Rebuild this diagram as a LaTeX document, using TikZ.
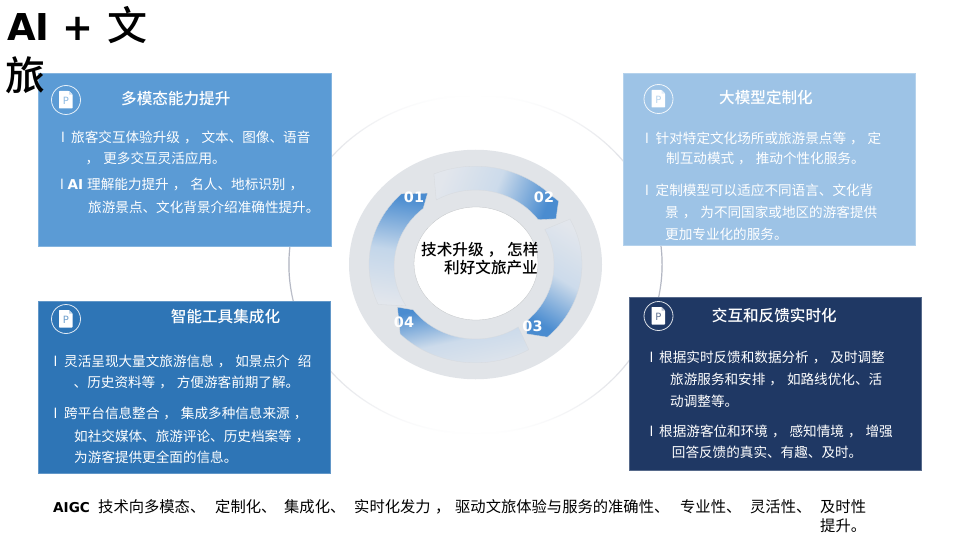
\documentclass[tikz,border=0pt]{standalone}
\usepackage{fontspec}
\usetikzlibrary{shapes.geometric}
\setmainfont{Noto Sans CJK SC}
\newfontfamily\mediumcjk{Noto Sans CJK SC Medium}
\newfontfamily\latinb{DejaVu Sans}[BoldFont={DejaVu Sans Bold}]
\definecolor{boxa}{HTML}{5B9BD5}
\definecolor{boxb}{HTML}{9DC3E6}
\definecolor{boxc}{HTML}{2E75B6}
\definecolor{boxd}{HTML}{1F3864}
\definecolor{ringgray}{HTML}{E1E4E8}
\definecolor{tailc}{HTML}{E2E6EC}
\definecolor{headc}{HTML}{4A8CD0}
\definecolor{midc}{HTML}{C3D6EA}
\definecolor{orbit}{HTML}{ADB1BE}
\newcommand{\gap}{\hspace{4pt}}
\tikzset{
  x=1pt,y=1pt,
  panel/.style={draw=#1!75!white,line width=.5pt,fill=#1},
  bodyline/.style={anchor=base west,inner sep=0pt,font=\fontsize{13.6}{13.6}\selectfont,text=#1},
  bodyline/.default=white,
  headline/.style={anchor=base west,inner sep=0pt,font=\fontsize{15.6}{15.6}\selectfont\mediumcjk,text=white},
  hubline/.style={anchor=base west,inner sep=0pt,font=\fontsize{15.6}{15.6}\selectfont\mediumcjk,text=black},
  footline/.style={anchor=base west,inner sep=0pt,font=\fontsize{15.3}{15.3}\selectfont,text=black},
  numlabel/.style={inner sep=0pt,font=\fontsize{14.4}{14.4}\selectfont\latinb\bfseries,text=white},
  seg/.style={draw=ringgray!90!gray,line width=.3pt},
}
% name, x, centre y, text
\newcommand{\tl}[4]{\node[bodyline] (#1) at (#2,{-#3-4.9}) {#4};}
\newcommand{\hl}[4]{\node[headline] (#1) at (#2,{-#3-5.6}) {#4};}
\newcommand{\bu}[3]{\node[bodyline] (#1) at (#2,{-#3-4.9}) {\latinb l};}
\newcommand{\icon}[4]{%
  \node[circle,draw=white!85!#4,line width=.8pt,minimum size=29pt,inner sep=0pt] (#1) at (#2,-#3) {};
  \fill[white,rounded corners=.6pt,shift={(#2,-#3)}] (-7,9) -- (3,9) -- (6.5,5.5) -- (6.5,-8.5) -- (-7,-8.5) -- cycle;
  \fill[white!70!#4,shift={(#2,-#3)}] (3.2,8.8) -- (3.2,5.3) -- (6.5,5.3) -- cycle;
  \node[inner sep=0pt,font=\fontsize{10}{10}\selectfont\latinb,text=#4!70!white] (#1p) at (#2,{-#3-.5}) {P};
}
\begin{document}
\begin{tikzpicture}
\useasboundingbox (0,0) rectangle (960,-540);
\fill[white] (0,0) rectangle (960,-540);

% orbit
\coordinate (c) at (475.5,-264.5);
\shade[top color=white,bottom color=white,middle color=orbit,even odd rule]
  (c) ellipse[x radius=187.2,y radius=169.8] (c) ellipse[x radius=186,y radius=168.6];

% grey ring
\node[ellipse,fill=ringgray,minimum width=253pt,minimum height=229.5pt,inner sep=0pt] (ring) at (c) {};
\node[ellipse,fill=white,draw=ringgray!85!black,line width=.3pt,minimum width=124pt,minimum height=113pt,inner sep=0pt] (hub) at (476,-263.5) {};

\begin{scope}[shift={(c)}]
% 01
\path[seg,top color=headc,bottom color=tailc,middle color=midc,shading angle=-8]
  (134:106.5 and 98.3) arc[start angle=134,end angle=204,x radius=106.5,y radius=98.3]
  -- (212:82 and 78) arc[start angle=212,end angle=129,x radius=78.5,y radius=74.5]
  -- (-48,71.3) -- cycle;
% 02
\path[seg,left color=tailc,right color=headc,middle color=midc!70!tailc,shading angle=68]
  (113:106.5 and 98.3) arc[start angle=113,end angle=44.6,x radius=106.5,y radius=98.3]
  -- (83,63.5) -- (80.5,45.7) -- (37:78.5 and 74.5)
  arc[start angle=37,end angle=120,x radius=78.5,y radius=74.5] -- cycle;
% 03
\path[seg,left color=headc,right color=tailc,middle color=midc!70!tailc,shading angle=148]
  (27.5:106.5 and 98.3) arc[start angle=27.5,end angle=-47.6,x radius=106.5,y radius=98.3]
  -- (51.3,-69.3) -- (-49:78.5 and 74.5)
  arc[start angle=-49,end angle=28,x radius=78.5,y radius=74.5] -- cycle;
% 04
\path[seg,top color=headc,bottom color=tailc,middle color=midc!70!tailc,shading angle=12]
  (217.5:78.5 and 74.5) -- (-78,-42.7) -- (225:106.5 and 98.3)
  arc[start angle=225,end angle=300,x radius=106.5,y radius=98.3]
  -- (303:78.5 and 74.5)
  arc[start angle=303,end angle=217.5,x radius=78.5,y radius=74.5] -- cycle;
\end{scope}

\node[numlabel] (n1) at (414,-197.3) {01};
\node[numlabel] (n2) at (544,-197.3) {02};
\node[numlabel] (n3) at (532.5,-326) {03};
\node[numlabel] (n4) at (404,-322.5) {04};

% centre text
\node[hubline] (hubA) at (421,-255) {技术升级\gap{}，\gap{}怎样};
\node[hubline] (hubB) at (444,-273) {利好文旅产业};

% panels
\path[panel=boxa] (38,-73.3) rectangle (331,-246);
\path[panel=boxb] (623,-73.3) rectangle (915.5,-245.7);
\path[panel=boxc] (38,-301) rectangle (330.5,-473.5);
\path[panel=boxd] (629,-297.3) rectangle (921.7,-470);

\icon{ia}{66}{100}{boxa}
\icon{ib}{658.5}{99}{boxb}
\icon{ic}{66}{319}{boxc}
\icon{id}{658.5}{316}{boxd}

% panel 1
\hl{ah}{121}{99}{多模态能力提升}
\bu{ab1}{61}{138}
\tl{a1}{71}{138}{旅客交互体验升级\gap{}，\gap{}文本、图像、语音}
\tl{a2}{85.5}{159}{，\gap{}更多交互灵活应用。}
\bu{ab2}{60}{185}
\node[bodyline] (a3a) at (67.5,-189.9) {\latinb\bfseries AI};
\tl{a3}{87}{185}{理解能力提升\gap{}，\gap{}名人、地标识别\gap{}，}
\tl{a4}{88}{208}{旅游景点、文化背景介绍准确性提升。}

% panel 2
\hl{bh}{719}{98}{大模型定制化}
\bu{bb1}{645}{139}
\tl{b1}{655.5}{139}{针对特定文化场所或旅游景点等\gap{}，\gap{}定}
\tl{b2}{666}{159}{制互动模式\gap{}，\gap{}推动个性化服务。}
\bu{bb2}{645}{190.5}
\tl{b3}{655.5}{190.5}{定制模型可以适应不同语言、文化背}
\tl{b4}{665}{212.7}{景\gap{}，\gap{}为不同国家或地区的游客提供}
\tl{b5}{665}{235}{更加专业化的服务。}

% panel 3
\hl{ch}{170.7}{317}{智能工具集成化}
\bu{cb1}{53.5}{362}
\tl{c1}{64}{362}{灵活呈现大量文旅游信息\gap{}，\gap{}如景点介\hspace{8pt}绍}
\tl{c2}{73.5}{383}{、历史资料等\gap{}，\gap{}方便游客前期了解。}
\bu{cb2}{53.5}{414}
\tl{c3}{64}{414}{跨平台信息整合\gap{}，\gap{}集成多种信息来源\gap{}，}
\tl{c4}{74}{436.7}{如社交媒体、旅游评论、历史档案等\gap{}，}
\tl{c5}{74}{457.7}{为游客提供更全面的信息。}

% panel 4
\hl{dh}{711.7}{316}{交互和反馈实时化}
\bu{db1}{649.5}{358}
\tl{d1}{659}{358}{根据实时反馈和数据分析\gap{}，\gap{}及时调整}
\tl{d2}{670}{380}{旅游服务和安排\gap{}，\gap{}如路线优化、活}
\tl{d3}{670}{402}{动调整等。}
\bu{db2}{649.5}{432}
\tl{d4}{659}{432}{根据游客位和环境\gap{}，\gap{}感知情境\gap{}，\gap{}增强}
\tl{d5}{671.7}{453}{回答反馈的真实、有趣、及时。}

% footer
\node[footline] (fa) at (53,-512.5) {\fontsize{13.6}{13.6}\selectfont\latinb\bfseries AIGC};
\node[footline] (fb) at (98,-512.5) {技术向多模态、\hspace{9.9pt}定制化、\hspace{7.8pt}集成化、\hspace{8.8pt}实时化发力\hspace{4.5pt}，\hspace{4.7pt}驱动文旅体验与服务的准确性、\hspace{10.8pt}专业性、\hspace{8.8pt}灵活性、\hspace{8.8pt}及时性};
\node[footline] (fc) at (820,-531.5) {提升。};

% title
\node[anchor=base west,inner sep=0pt,font=\fontsize{37}{37}\selectfont\latinb\bfseries,text=black] (ta) at (7,-41) {AI +};
\node[anchor=base west,inner sep=0pt,font=\fontsize{40}{40}\selectfont\mediumcjk,text=black] (tb) at (107,-41) {文};
\node[anchor=base west,inner sep=0pt,font=\fontsize{40}{40}\selectfont\mediumcjk,text=black] (tc) at (5,-91) {旅};
\end{tikzpicture}
\end{document}
